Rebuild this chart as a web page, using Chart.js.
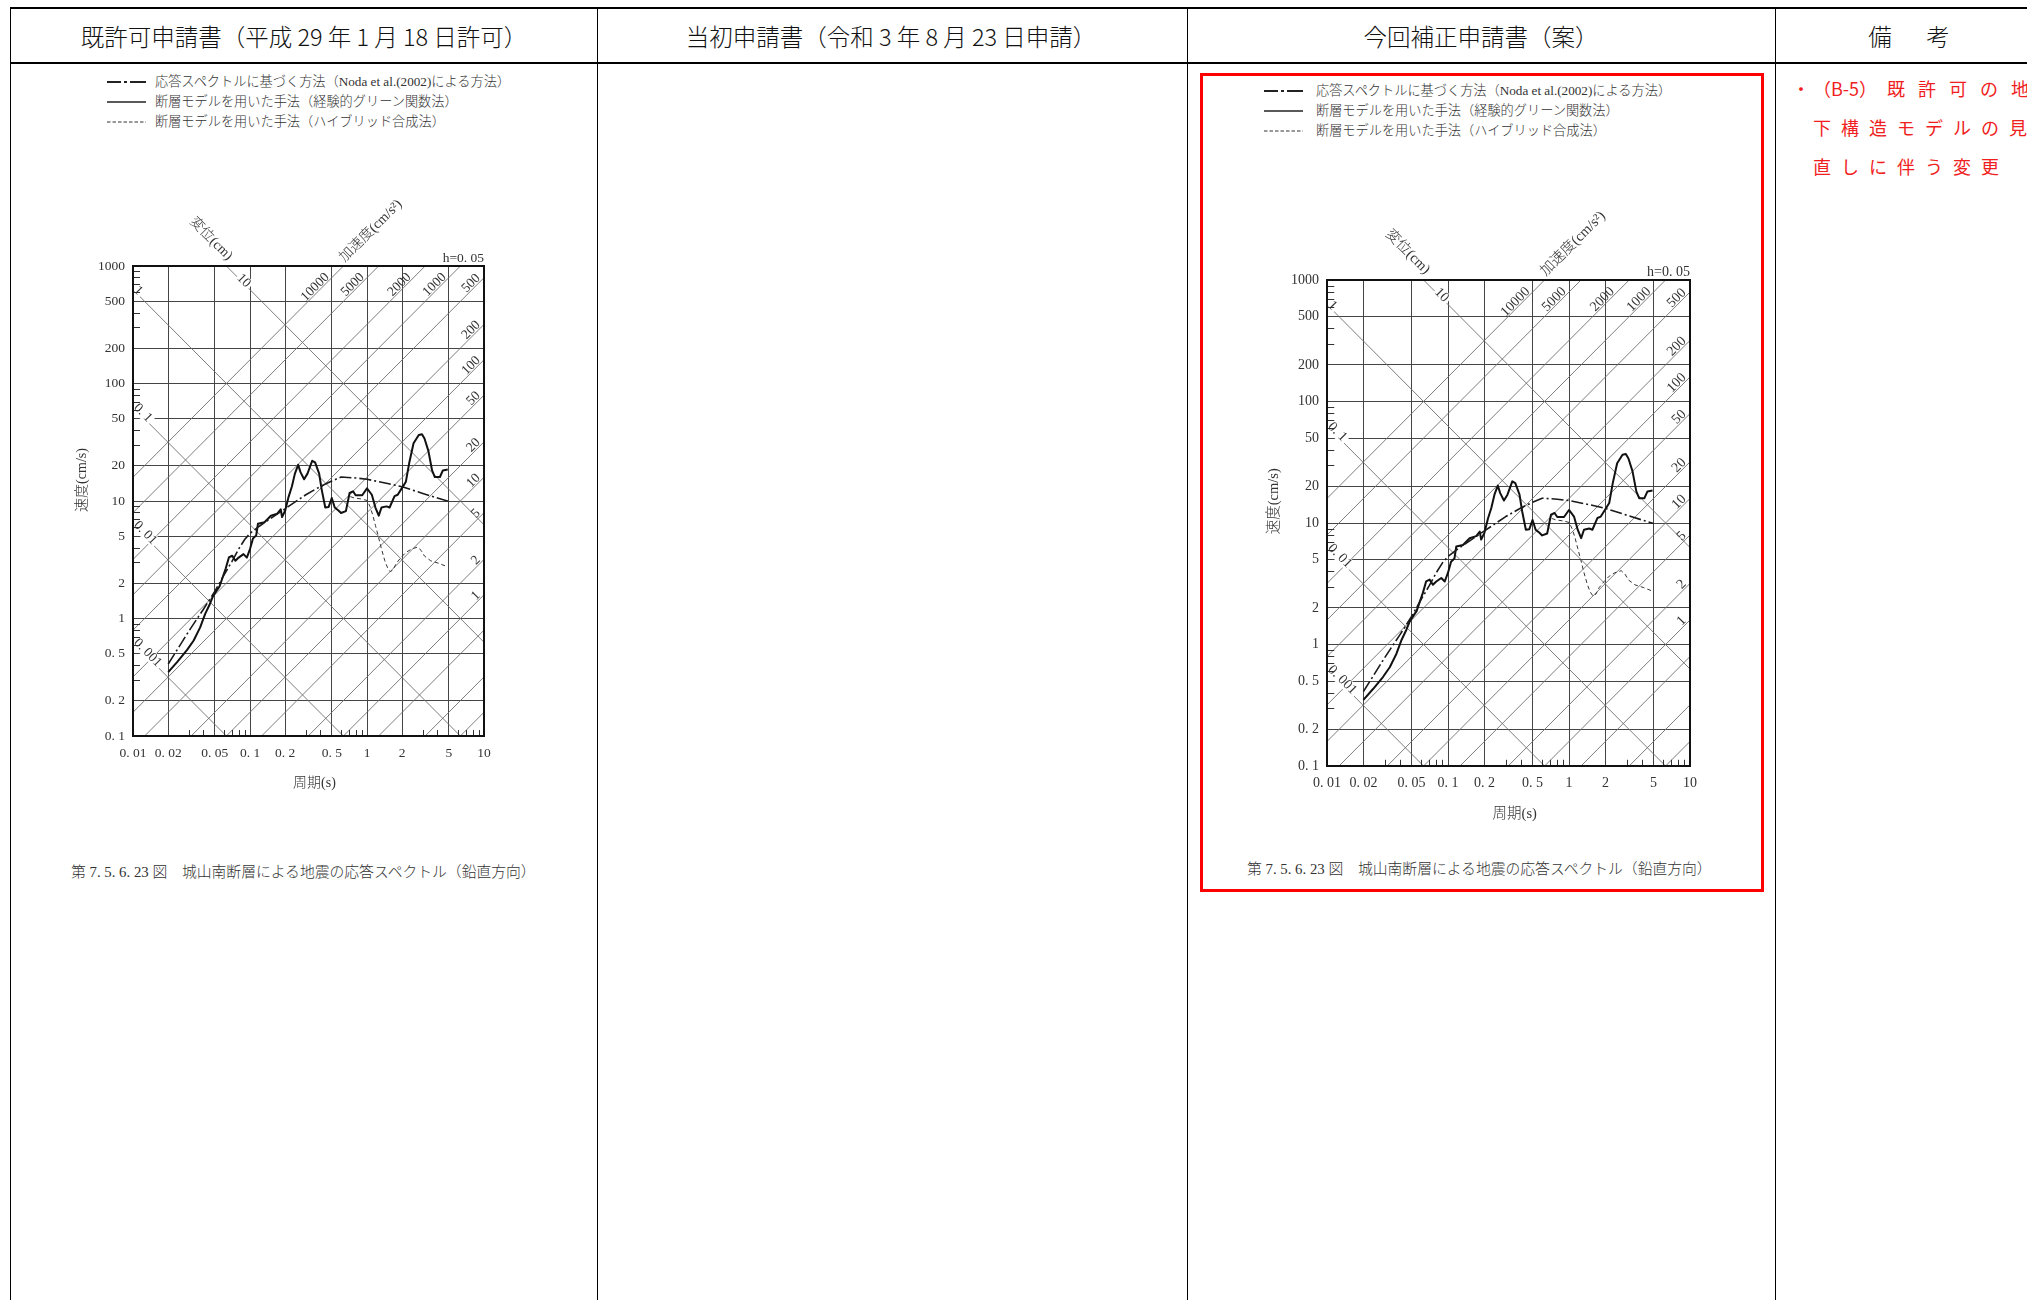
<!DOCTYPE html>
<html lang="ja">
<head>
<meta charset="utf-8">
<script src="https://cdn.jsdelivr.net/npm/chart.js@4.4.1/dist/chart.umd.min.js"></script>
<style>
html,body{margin:0;padding:0;background:#fff;}
body{width:2027px;height:1300px;position:relative;overflow:hidden;font-family:"Noto Sans CJK JP",sans-serif;font-weight:300;}
.ab{position:absolute;white-space:nowrap;}
.rule{position:absolute;background:#000;}
.hd{position:absolute;top:21px;height:30px;line-height:30px;font-size:23.5px;color:#111;white-space:nowrap;transform:translateX(-50%);}
.lg{position:absolute;height:16px;line-height:16px;font-size:13.2px;color:#333;white-space:nowrap;font-family:'Liberation Serif','Noto Sans CJK JP',serif;}
.lg svg{position:absolute;top:5px;}
.lg span{position:absolute;top:0;}
.cap{position:absolute;height:20px;line-height:20px;font-size:14.8px;color:#333;white-space:nowrap;font-family:'Liberation Serif','Noto Sans CJK JP',serif;}
.rm{position:absolute;height:22px;line-height:22px;font-size:18px;font-weight:400;color:#f01e1e;white-space:nowrap;}
canvas{position:absolute;}
</style>
</head>
<body>

<!-- table frame -->
<div class="rule" style="left:10px;top:7px;width:2017px;height:2px;"></div>
<div class="rule" style="left:10px;top:62px;width:2017px;height:2px;"></div>
<div class="rule" style="left:10px;top:7px;width:1px;height:1293px;"></div>
<div class="rule" style="left:597px;top:7px;width:1px;height:1293px;"></div>
<div class="rule" style="left:1187px;top:7px;width:1px;height:1293px;"></div>
<div class="rule" style="left:1775px;top:7px;width:1px;height:1293px;"></div>

<!-- column headers -->
<div class="hd" style="left:304px;">既許可申請書（平成 29 年 1 月 18 日許可）</div>
<div class="hd" style="left:891px;">当初申請書（令和 3 年 8 月 23 日申請）</div>
<div class="hd" style="left:1481px;">今回補正申請書（案）</div>
<div class="hd" style="left:1880px;">備</div>
<div class="hd" style="left:1938px;">考</div>

<!-- change marker -->
<div class="ab" style="left:1200px;top:73px;width:558px;height:813px;border:3px solid #f00;"></div>

<!-- remarks -->
<div class="rm" style="left:1792px;top:77px;">・</div>
<div class="rm" style="left:1813px;top:77px;">（B-5）</div>
<div class="rm" style="left:1887px;top:77px;letter-spacing:13px;">既許可の地</div>
<div class="rm" style="left:1813px;top:116px;letter-spacing:10px;">下構造モデルの見</div>
<div class="rm" style="left:1813px;top:155px;letter-spacing:10px;">直しに伴う変更</div>

<!-- chart 1 -->
<div id="legend1"></div>
<canvas id="c1" width="500" height="650" style="left:40px;top:170px;"></canvas>
<div class="cap" id="cap1" style="left:71px;top:862px;"></div>

<!-- chart 2 -->
<div id="legend2"></div>
<canvas id="c2" width="500" height="670" style="left:1230px;top:180px;"></canvas>
<div class="cap" id="cap2" style="left:1247px;top:859px;"></div>

<script>
// ---- axis ticks (period T in s, pseudo velocity V in cm/s) ----
const periodTicks = [0.01, 0.02, 0.05, 0.1, 0.2, 0.5, 1, 2, 5, 10];
const periodTickLabels = ['0. 01', '0. 02', '0. 05', '0. 1', '0. 2', '0. 5', '1', '2', '5', '10'];
const velocityTicks = [0.1, 0.2, 0.5, 1, 2, 5, 10, 20, 50, 100, 200, 500, 1000];
const velocityTickLabels = ['0. 1', '0. 2', '0. 5', '1', '2', '5', '10', '20', '50', '100', '200', '500', '1000'];
const minorMultipliers = [3, 4, 6, 7, 8, 9];

// ---- tripartite guide lines ----
const accelLines = [0.1, 0.2, 0.5, 1, 2, 5, 10, 20, 50, 100, 200, 500, 1000, 2000, 5000, 10000];   // cm/s2
const accelLabels = ['', '', '', '1', '2', '5', '10', '20', '50', '100', '200', '500', '1000', '2000', '5000', '10000'];
const dispLines = [0.001, 0.01, 0.1, 1, 10];   // cm
const dispLabels = ['0. 001', '0. 01', '0. 1', '1', '10'];

// ---- texts ----
const axisTitles = { period: '周期(s)', velocity: '速度(cm/s)', disp: '変位(cm)', accel: '加速度(cm/s²)' };
const dampingLabel = 'h=0. 05';
const legendLabels = [
  '応答スペクトルに基づく方法（Noda et al.(2002)による方法）',
  '断層モデルを用いた手法（経験的グリーン関数法）',
  '断層モデルを用いた手法（ハイブリッド合成法）'
];
const captionText = '第 7. 5. 6. 23 図　城山南断層による地震の応答スペクトル（鉛直方向）';

// ---- spectra ----
// Noda et al. (2002)
const nodaT = [0.02, 0.03, 0.04, 0.05, 0.06, 0.07, 0.08, 0.09, 0.1, 0.12, 0.15, 0.2, 0.3, 0.4, 0.5, 0.6, 0.8, 1.0, 1.5, 2.0, 3.0, 4.0, 5.0];
const nodaV = [0.41, 0.78, 1.2, 1.7, 2.35, 3.05, 3.9, 4.7, 5.3, 6.1, 7.1, 8.6, 11.3, 13.3, 14.8, 16.0, 15.7, 15.3, 14.1, 13.2, 11.6, 10.6, 9.9];
// empirical Green's function method
const egfT = [0.02, 0.024, 0.029, 0.033, 0.0375, 0.0413, 0.0454, 0.0483, 0.0515, 0.055, 0.058, 0.062, 0.066, 0.0705, 0.075, 0.08, 0.088, 0.094, 0.1, 0.106, 0.113, 0.117, 0.133, 0.151, 0.171, 0.183, 0.188, 0.2, 0.214, 0.228, 0.242, 0.258, 0.27, 0.29, 0.31, 0.34, 0.36, 0.39, 0.41, 0.44, 0.47, 0.5, 0.53, 0.57, 0.6, 0.66, 0.71, 0.76, 0.8, 0.91, 1.0, 1.1, 1.18, 1.26, 1.33, 1.47, 1.56, 1.72, 1.83, 1.95, 2.15, 2.3, 2.5, 2.77, 2.95, 3.1, 3.35, 3.6, 3.8, 4.2, 4.45, 4.9];
const egfV = [0.35, 0.43, 0.54, 0.65, 0.84, 1.09, 1.33, 1.55, 1.71, 1.88, 2.2, 2.66, 3.31, 3.42, 3.1, 3.3, 3.53, 3.3, 3.9, 4.8, 5.1, 6.4, 6.6, 7.5, 7.8, 8.5, 7.3, 8.3, 10.9, 13.3, 17.1, 20.3, 17.6, 15.3, 17.1, 22, 21.3, 17.1, 12.5, 8.8, 8.9, 10.6, 8.8, 8.3, 7.9, 8.2, 11.7, 12.1, 11.2, 11.2, 12.8, 11.3, 8.8, 7.5, 8.8, 9.0, 8.8, 11.0, 11.3, 12.5, 14.6, 21.3, 31, 36.4, 37, 34, 26.6, 18.2, 16.0, 16, 18.2, 18.5];
// hybrid synthesis method (long-period branch)
const hybT = [0.72, 0.78, 0.9, 1.0, 1.06, 1.12, 1.18, 1.25, 1.33, 1.42, 1.5, 1.58, 1.67, 1.78, 1.95, 2.15, 2.4, 2.7, 2.9, 3.1, 3.5, 4.1, 4.9];
const hybV = [10.9, 10.6, 10.4, 10.1, 9.0, 7.6, 6.2, 5.0, 3.9, 3.1, 2.7, 2.5, 2.6, 2.95, 3.3, 3.65, 3.9, 4.05, 3.8, 3.4, 3.1, 2.95, 2.75];

const SERIF = "'Liberation Serif','DejaVu Serif','Noto Sans CJK JP',serif";
const TWO_PI = 2 * Math.PI;
const toXY = (ts, vs) => ts.map((t, i) => ({ x: t, y: vs[i] }));

function unit(p, q) {
  const dx = q.x - p.x, dy = q.y - p.y, l = Math.hypot(dx, dy);
  return { x: dx / l, y: dy / l };
}

function tripartitePlugin(geo) {
  const k = geo.k;
  return {
    id: 'tripartite',
    beforeDatasetsDraw(chart) {
      const { ctx, chartArea: a, scales: { x, y } } = chart;
      const P = (T, V) => ({ x: x.getPixelForValue(T), y: y.getPixelForValue(V) });
      const Tmin = x.min, Tmax = x.max, Vmin = y.min, Vmax = y.max;
      ctx.save();
      ctx.beginPath();
      ctx.rect(a.left, a.top, a.right - a.left, a.bottom - a.top);
      ctx.clip();
      ctx.strokeStyle = '#6e6e6e';
      ctx.lineWidth = 0.9;
      const seg = (p, q) => { ctx.beginPath(); ctx.moveTo(p.x, p.y); ctx.lineTo(q.x, q.y); ctx.stroke(); };
      accelLines.forEach(A => seg(P(Tmin, A * Tmin / TWO_PI), P(Tmax, A * Tmax / TWO_PI)));
      dispLines.forEach(D => seg(P(Tmin, TWO_PI * D / Tmin), P(Tmax, TWO_PI * D / Tmax)));

      ctx.font = geo.diagFont + 'px ' + SERIF;
      ctx.textBaseline = 'middle';
      // acceleration labels, at the upper end of each line
      accelLines.forEach((A, i) => {
        const lab = accelLabels[i];
        if (!lab) return;
        const u = unit(P(Tmin, A * Tmin / TWO_PI), P(Tmax, A * Tmax / TWO_PI));
        const n = { x: u.y, y: -u.x };
        let Te = Tmax, Ve = A * Tmax / TWO_PI, along = 3 * k;
        if (Ve > Vmax) { Ve = Vmax; Te = TWO_PI * Vmax / A; along = 18 * k; }
        const e = P(Te, Ve);
        const px = e.x - u.x * along + n.x * 5 * k, py = e.y - u.y * along + n.y * 5 * k;
        ctx.save();
        ctx.translate(px, py);
        ctx.rotate(Math.atan2(u.y, u.x));
        ctx.textAlign = 'right';
        ctx.fillStyle = '#333';
        ctx.fillText(lab, 0, 0);
        ctx.restore();
      });
      // displacement labels, at the upper-left start of each line
      dispLines.forEach((D, i) => {
        const lab = dispLabels[i];
        const u = unit(P(Tmin, TWO_PI * D / Tmin), P(Tmax, TWO_PI * D / Tmax));
        const n = { x: u.y, y: -u.x };
        let Ts = Tmin, Vs = TWO_PI * D / Tmin, along = 1 * k, perp = 3 * k;
        if (Vs > Vmax) { Vs = Vmax; Ts = TWO_PI * D / Vmax; along = 16 * k; perp = 2 * k; }
        const s = P(Ts, Vs);
        const px = s.x + u.x * along + n.x * perp, py = s.y + u.y * along + n.y * perp;
        ctx.save();
        ctx.translate(px, py);
        ctx.rotate(Math.atan2(u.y, u.x));
        ctx.textAlign = 'left';
        const w = ctx.measureText(lab).width;
        ctx.fillStyle = '#fff';
        ctx.fillRect(-1, -6 * k, w + 3, 12 * k);
        ctx.fillStyle = '#333';
        ctx.fillText(lab, 0, 0);
        ctx.restore();
      });
      ctx.restore();

      // minor tick marks inside the left and bottom axes
      ctx.save();
      ctx.strokeStyle = '#333';
      ctx.lineWidth = 1;
      for (let d = -1; d <= 2; d++) {
        minorMultipliers.forEach(m => {
          const v = m * Math.pow(10, d);
          if (v <= Vmin || v >= Vmax) return;
          const py = Math.round(y.getPixelForValue(v)) + 0.5;
          ctx.beginPath(); ctx.moveTo(a.left, py); ctx.lineTo(a.left + 7 * k, py); ctx.stroke();
        });
      }
      for (let d = -2; d <= 0; d++) {
        minorMultipliers.forEach(m => {
          const v = m * Math.pow(10, d);
          if (v <= Tmin || v >= Tmax) return;
          const px = Math.round(x.getPixelForValue(v)) + 0.5;
          ctx.beginPath(); ctx.moveTo(px, a.bottom); ctx.lineTo(px, a.bottom - 6 * k); ctx.stroke();
        });
      }
      ctx.restore();
    },
    afterDraw(chart) {
      const { ctx, chartArea: a } = chart;
      ctx.save();
      ctx.strokeStyle = '#111';
      ctx.lineWidth = 2;
      ctx.strokeRect(a.left, a.top, a.right - a.left, a.bottom - a.top);
      ctx.fillStyle = '#333';
      ctx.font = '300 ' + geo.titleFont + 'px ' + SERIF;
      ctx.textAlign = 'center';
      ctx.textBaseline = 'middle';
      ctx.fillText(axisTitles.period, (a.left + a.right) / 2 + 6 * k, a.bottom + 47 * k);
      const place = (txt, px, py, rot) => {
        ctx.save(); ctx.translate(px, py); ctx.rotate(rot); ctx.fillText(txt, 0, 0); ctx.restore();
      };
      place(axisTitles.velocity, a.left - 51 * k, (a.top + a.bottom) / 2 - 21 * k, -Math.PI / 2);
      place(axisTitles.disp, a.left + 78 * k, a.top - 27 * k, Math.PI / 4);
      place(axisTitles.accel, a.left + 238 * k, a.top - 35 * k, -Math.PI / 4);
      ctx.font = geo.tickFont + 'px ' + SERIF;
      ctx.textAlign = 'right';
      ctx.textBaseline = 'alphabetic';
      ctx.fillText(dampingLabel, a.right, a.top - 4 * k);
      ctx.restore();
    }
  };
}

function buildChart(id, geo) {
  const font = { family: SERIF, size: geo.tickFont };
  return new Chart(document.getElementById(id), {
    type: 'line',
    data: {
      datasets: [
        { label: legendLabels[2], data: toXY(hybT, hybV), borderColor: '#333', borderWidth: 1, borderDash: [4, 3] },
        { label: legendLabels[0], data: toXY(nodaT, nodaV), borderColor: '#1a1a1a', borderWidth: 1.6, borderDash: [12, 3, 2, 3] },
        { label: legendLabels[1], data: toXY(egfT, egfV), borderColor: '#111', borderWidth: 2 }
      ]
    },
    options: {
      responsive: false,
      animation: false,
      devicePixelRatio: 1,
      layout: { padding: { left: geo.padL, top: geo.padT, right: geo.padR, bottom: geo.padB } },
      plugins: { legend: { display: false }, tooltip: { enabled: false } },
      elements: { point: { radius: 0 }, line: { tension: 0, borderJoinStyle: 'round' } },
      scales: {
        x: {
          type: 'logarithmic', position: 'bottom', min: periodTicks[0], max: periodTicks[periodTicks.length - 1],
          afterBuildTicks: s => { s.ticks = periodTicks.map(v => ({ value: v })); },
          afterFit: s => { s.height = geo.xAxisH; },
          ticks: { autoSkip: false, maxRotation: 0, padding: 9, color: '#333', font,
                   callback: v => periodTickLabels[periodTicks.indexOf(v)] },
          grid: { color: '#454545', lineWidth: 1, drawTicks: false },
          border: { display: false }
        },
        y: {
          type: 'logarithmic', position: 'left', min: velocityTicks[0], max: velocityTicks[velocityTicks.length - 1],
          afterBuildTicks: s => { s.ticks = velocityTicks.map(v => ({ value: v })); },
          afterFit: s => { s.width = geo.yAxisW; },
          ticks: { autoSkip: false, padding: 8, color: '#333', font,
                   callback: v => velocityTickLabels[velocityTicks.indexOf(v)] },
          grid: { color: '#454545', lineWidth: 1, drawTicks: false },
          border: { display: false }
        }
      }
    },
    plugins: [tripartitePlugin(geo)]
  });
}

// legend block in HTML, one row per series
const legendSamples = [
  '<line x1="0" y1="3" x2="39" y2="3" stroke="#222" stroke-width="2" stroke-dasharray="14 3 3 3 16"/>',
  '<line x1="0" y1="3" x2="39" y2="3" stroke="#222" stroke-width="1.6"/>',
  '<line x1="0" y1="3" x2="39" y2="3" stroke="#333" stroke-width="1" stroke-dasharray="3.5 2"/>'
];
function buildLegend(id, left, textLeft, top, pitch) {
  const host = document.getElementById(id);
  legendLabels.forEach((lab, i) => {
    const row = document.createElement('div');
    row.className = 'lg';
    row.style.left = left + 'px';
    row.style.top = (top + i * pitch) + 'px';
    row.innerHTML = '<svg width="40" height="6">' + legendSamples[i] + '</svg>';
    const sp = document.createElement('span');
    sp.style.left = (textLeft - left) + 'px';
    sp.textContent = lab;
    row.appendChild(sp);
    host.appendChild(row);
  });
}

buildLegend('legend1', 107, 155, 74, 20);
buildLegend('legend2', 1264, 1316, 83, 20);
document.getElementById('cap1').textContent = captionText;
document.getElementById('cap2').textContent = captionText;

buildChart('c1', { padL: 33, padT: 96, padR: 56, padB: 24, yAxisW: 60, xAxisH: 60, k: 1, tickFont: 13.5, diagFont: 13.5, titleFont: 14 });
buildChart('c2', { padL: 37, padT: 100, padR: 40, padB: 24, yAxisW: 60, xAxisH: 60, k: 1.034, tickFont: 14, diagFont: 14, titleFont: 14.5 });
</script>
</body>
</html>
